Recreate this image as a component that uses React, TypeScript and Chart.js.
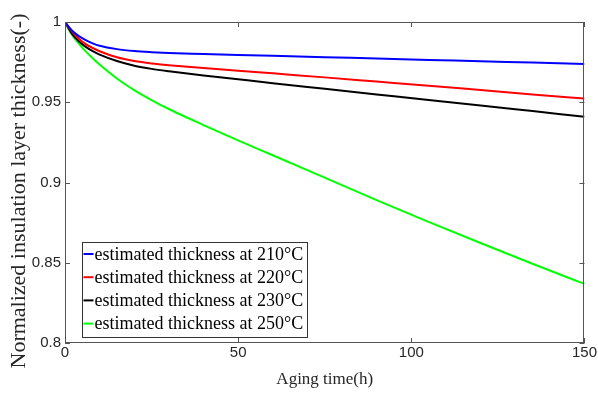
import React, { useEffect, useRef } from "react";
import { Chart, registerables } from "chart.js";

Chart.register(...registerables);

const hours = [0, 1, 2, 4, 6, 8, 10, 15, 20, 25, 30, 40, 50, 60, 75, 90, 105, 120, 135, 150];
const t210 = [1, 0.9972, 0.9947, 0.9912, 0.9887, 0.9867, 0.9852, 0.9831, 0.9819, 0.9812, 0.9807, 0.9801, 0.9795, 0.9789, 0.9781, 0.9772, 0.9764, 0.9755, 0.9747, 0.9738];
const t220 = [1, 0.997, 0.9942, 0.9895, 0.9862, 0.9838, 0.9818, 0.978, 0.9757, 0.9742, 0.9731, 0.9713, 0.9697, 0.968, 0.9655, 0.9629, 0.9603, 0.9576, 0.9549, 0.9523];
const t230 = [1, 0.9963, 0.9928, 0.988, 0.9845, 0.9818, 0.9797, 0.9757, 0.9728, 0.9708, 0.9693, 0.9667, 0.9643, 0.9619, 0.9584, 0.9549, 0.9514, 0.948, 0.9445, 0.941];
const t250 = [1, 0.9957, 0.9921, 0.9865, 0.9817, 0.9774, 0.9735, 0.9648, 0.9576, 0.9514, 0.9458, 0.9358, 0.9262, 0.917, 0.903, 0.889, 0.8755, 0.8623, 0.8494, 0.8368];
const seriesLabels = [
  "estimated thickness at 210°C",
  "estimated thickness at 220°C",
  "estimated thickness at 230°C",
  "estimated thickness at 250°C",
];
const seriesColors = ["#0000ff", "#ff0000", "#000000", "#00ff00"];
const xTicks = [0, 50, 100, 150];
const yTicks = [0.8, 0.85, 0.9, 0.95, 1];
const xTitle = "Aging time(h)";
const yTitle = "Normalized insulation layer thickness(-)";

const SERIF = "'Liberation Serif', 'Times New Roman', serif";
const SANS = "'Liberation Sans', Arial, sans-serif";

const framePlugin = {
  id: "frame",
  afterDraw(chart: any) {
    const { ctx, chartArea: a, scales } = chart;
    const xs = scales.x;
    const ys = scales.y;
    ctx.save();
    ctx.strokeStyle = "#555";
    ctx.lineWidth = 1;
    ctx.strokeRect(Math.round(a.left) + 0.5, Math.round(a.top) + 0.5, Math.round(a.right - a.left) - 1, Math.round(a.bottom - a.top) - 1);
    const tl = 5;
    ctx.beginPath();
    xTicks.forEach((v) => {
      const px = Math.round(xs.getPixelForValue(v)) + 0.5;
      ctx.moveTo(px, a.bottom);
      ctx.lineTo(px, a.bottom - tl);
      ctx.moveTo(px, a.top);
      ctx.lineTo(px, a.top + tl);
    });
    yTicks.forEach((v) => {
      const py = Math.round(ys.getPixelForValue(v)) + 0.5;
      ctx.moveTo(a.left, py);
      ctx.lineTo(a.left + tl, py);
      ctx.moveTo(a.right, py);
      ctx.lineTo(a.right - tl, py);
    });
    ctx.stroke();

    ctx.fillStyle = "#262626";
    ctx.textAlign = "center";
    ctx.textBaseline = "middle";
    ctx.font = `17px ${SERIF}`;
    ctx.fillText(xTitle, (a.left + a.right) / 2, 380);
    ctx.save();
    ctx.translate(19, 191);
    ctx.rotate(-Math.PI / 2);
    ctx.font = `22px ${SERIF}`;
    ctx.fillText(yTitle, 0, 0);
    ctx.restore();

    const bx = 82.5, by = 242.5, bw = 225, bh = 95;
    ctx.fillStyle = "#fff";
    ctx.fillRect(bx, by, bw, bh);
    ctx.strokeStyle = "#333";
    ctx.lineWidth = 1;
    ctx.strokeRect(bx, by, bw, bh);
    ctx.font = `18px ${SERIF}`;
    ctx.textAlign = "left";
    ctx.textBaseline = "middle";
    chart.data.datasets.forEach((ds: any, i: number) => {
      const cy = 254 + i * 23.2;
      ctx.strokeStyle = ds.borderColor;
      ctx.lineWidth = 2;
      ctx.beginPath();
      ctx.moveTo(bx + 1, cy);
      ctx.lineTo(bx + 11, cy);
      ctx.stroke();
      ctx.fillStyle = "#000";
      ctx.fillText(ds.label, bx + 12, cy + 1);
    });
    ctx.restore();
  },
};

export default function App() {
  const ref = useRef<HTMLCanvasElement>(null);
  useEffect(() => {
    document.body.style.margin = "0";
    const series = [t210, t220, t230, t250];
    const chart = new Chart(ref.current!, {
      type: "line",
      data: {
        datasets: series.map((s, i) => ({
          label: seriesLabels[i],
          data: hours.map((h, j) => ({ x: h, y: s[j] })),
          borderColor: seriesColors[i],
          backgroundColor: seriesColors[i],
          borderWidth: 2,
          pointRadius: 0,
          cubicInterpolationMode: "monotone",
          fill: false,
        })),
      },
      options: {
        animation: false,
        responsive: false,
        maintainAspectRatio: false,
        layout: { padding: { left: 0, right: 13, top: 22, bottom: 0 } },
        plugins: { legend: { display: false }, tooltip: { enabled: false } },
        scales: {
          x: {
            type: "linear",
            min: 0,
            max: 150,
            afterBuildTicks: (s: any) => { s.ticks = xTicks.map((v) => ({ value: v })); },
            ticks: { font: { family: SANS, size: 15 }, color: "#262626", padding: 1, maxRotation: 0 },
            grid: { display: false, drawTicks: false },
            border: { display: false },
            afterFit: (s: any) => { s.height = 50; },
          },
          y: {
            type: "linear",
            min: 0.8,
            max: 1,
            afterBuildTicks: (s: any) => { s.ticks = yTicks.map((v) => ({ value: v })); },
            ticks: {
              font: { family: SANS, size: 15 },
              color: "#262626",
              padding: 4,
              callback: (v: any) => String(Math.round(Number(v) * 100) / 100),
            },
            grid: { display: false, drawTicks: false },
            border: { display: false },
            afterFit: (s: any) => { s.width = 65; },
          },
        },
      },
      plugins: [framePlugin],
    });
    return () => chart.destroy();
  }, []);
  return (
    <div style={{ width: 598, height: 393, background: "#fff" }}>
      <canvas ref={ref} width={598} height={393} style={{ display: "block" }} />
    </div>
  );
}
